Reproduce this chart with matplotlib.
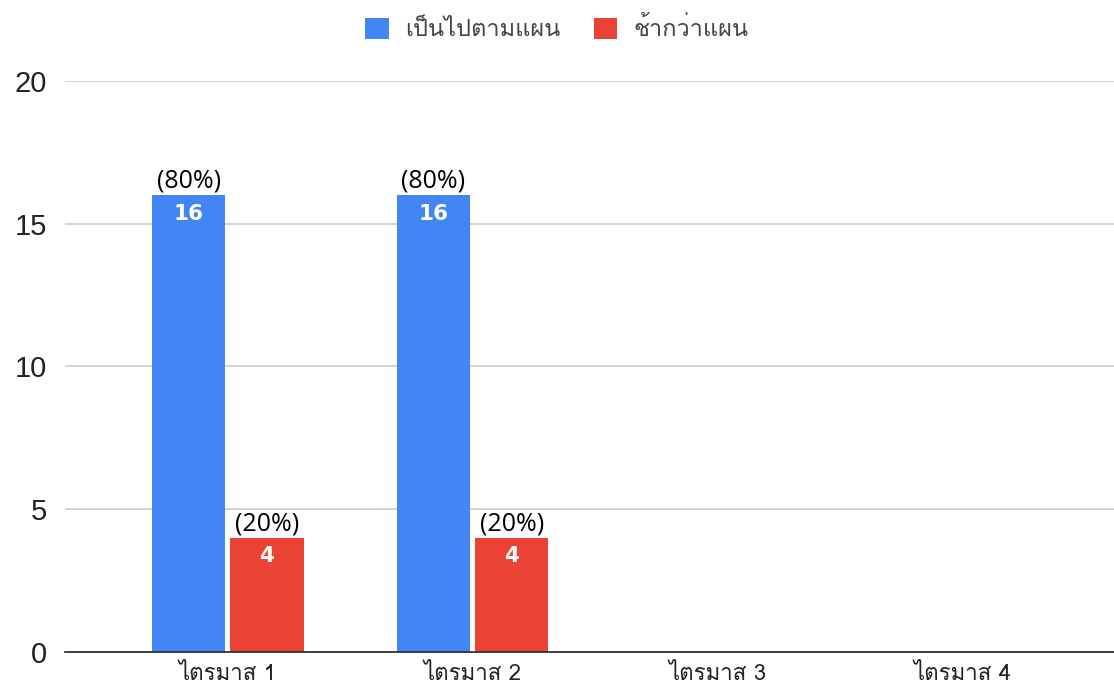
import numpy as np
import matplotlib
matplotlib.use("Agg")
import matplotlib.pyplot as plt
from matplotlib.patches import Patch

categories = ["ไตรมาส 1", "ไตรมาส 2", "ไตรมาส 3", "ไตรมาส 4"]
on_plan = [16, 16, 0, 0]
late = [4, 4, 0, 0]
on_plan_pct = ["(80%)", "(80%)", "", ""]
late_pct = ["(20%)", "(20%)", "", ""]
series_names = ["เป็นไปตามแผน", "ช้ากว่าแผน"]

blue = "#4285F4"
red = "#EA4335"
thai = ["Loma", "Noto Sans Thai Looped", "DejaVu Sans"]

fig = plt.figure(figsize=(11.14, 6.84), dpi=100)
ax = fig.add_axes([0.0583, 0.0468, 0.9417, 0.8348])

x = np.arange(len(categories))
w = 0.30
off = 0.16
b1 = ax.bar(x - off, on_plan, w, color=blue, zorder=3)
b2 = ax.bar(x + off, late, w, color=red, zorder=3)

for bars, vals, pcts in [(b1, on_plan, on_plan_pct), (b2, late, late_pct)]:
    for rect, v, p in zip(bars, vals, pcts):
        if v == 0:
            continue
        cx = rect.get_x() + rect.get_width() / 2
        ax.text(cx, v - 0.3, str(v), ha="center", va="top", color="white",
                fontsize=15.5, fontweight="bold", family="DejaVu Sans", zorder=4)
        ax.text(cx, v + 0.05, p, ha="center", va="bottom", color="black",
                fontsize=18, family="Open Sans", zorder=4)

ax.set_xlim(-0.665, 3.62)
ax.set_ylim(0, 20)
ax.set_yticks([0, 5, 10, 15, 20])
ax.set_xticks(x)
ax.set_xticklabels(categories, family=thai, fontsize=16, color="#222222")
for lab in ax.get_yticklabels():
    lab.set_family("Liberation Sans")
    lab.set_fontsize(21)
    lab.set_color("#222222")
ax.tick_params(axis="y", length=0, pad=13)
ax.tick_params(axis="x", length=0, pad=9)
ax.grid(axis="y", color="#cccccc", linewidth=1.2, zorder=0)
for s in ["top", "right", "left"]:
    ax.spines[s].set_visible(False)
ax.spines["bottom"].set_color("#333333")
ax.spines["bottom"].set_linewidth(1.3)
ax.spines["bottom"].set_zorder(5)

handles = [Patch(facecolor=blue), Patch(facecolor=red)]
leg = fig.legend(handles, series_names, loc="center", bbox_to_anchor=(0.5, 0.957),
                 ncol=2, frameon=False, handlelength=1.0, handleheight=1.0,
                 handletextpad=0.7, columnspacing=1.4,
                 prop={"family": thai, "size": 17})
for t in leg.get_texts():
    t.set_color("#444444")

fig.savefig("out.png")
